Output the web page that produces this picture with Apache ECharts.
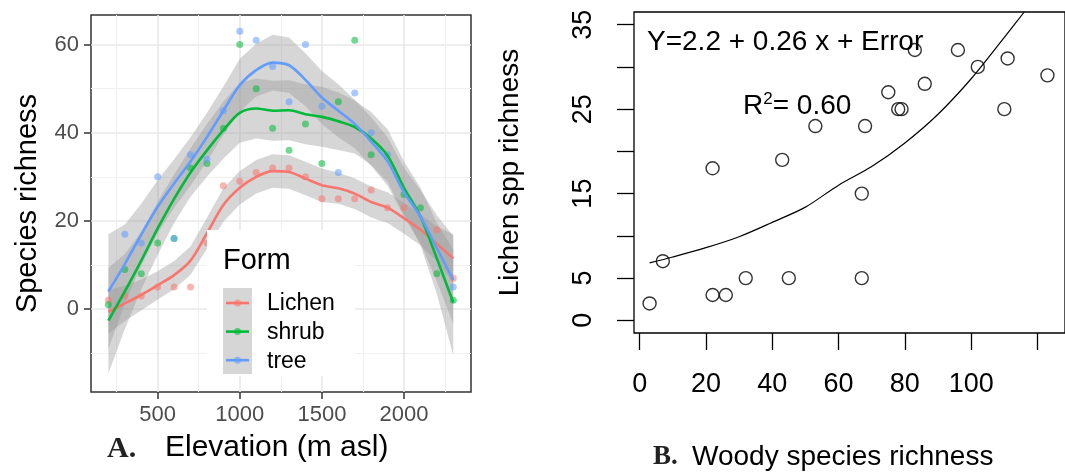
<!DOCTYPE html>
<html><head><meta charset="utf-8">
<script src="https://cdn.jsdelivr.net/npm/echarts@6/dist/echarts.min.js"></script>
<style>html,body{margin:0;padding:0;background:#fff}#c{width:1065px;height:475px}</style>
</head><body><div id="c"></div>
<script>
// ---------- Panel A data (elevation vs species richness) ----------
const elevGrid = [200,300,400,500,600,700,800,900,1000,1100,1200,1300,1400,1500,1600,1700,1800,1900,2000,2100,2200,2300];
const lichenObs = [2,3,3,5,5,5,15,28,29,31,32,32,30,25,25,25,27,23,23,null,18,7];
const shrubObs  = [1,9,8,15,16,32,33,41,60,50,41,36,42,33,47,61,35,null,26,23,8,2];
const treeObs   = [null,17,15,30,16,35,34,45,63,61,55,47,60,46,31,49,40,35,null,null,null,5];
const lichenFit = [-0.6,1.3,3.2,5.4,7.7,11.0,17.2,23.6,27.5,30.0,31.3,31.1,29.6,28.1,27.4,26.2,24.3,23.0,20.6,18.0,14.8,11.5];
const lichenSE  = [5,4,3.5,3.2,3.2,3.2,3.5,3.8,3.8,3.8,3.8,3.8,3.8,3.8,3.5,3.5,3.5,3.5,3.5,3.5,4,5.5];
const shrubFit  = [-2.6,4.0,11.0,18.3,25.0,31.0,36.0,40.6,44.5,45.5,45.0,45.1,44.2,43.6,42.6,41.3,38.7,34.8,27.5,21.0,11.5,1.5];
const shrubSE   = [12,8.5,6.5,6,5.5,5.5,6,6.5,6.8,6.8,6.8,6.8,6.8,6.8,6.5,6,6,6,6,6.5,8,12];
const treeFit   = [4.0,10.2,16.9,23.2,28.5,33.5,39.0,45.0,50.8,54.2,55.9,55.3,52.0,48.0,45.0,42.0,38.0,33.5,26.5,21.0,13.8,6.6];
const treeSE    = [13,9,7,6,5.5,5.5,5.5,5.5,6,6,6.3,6.3,6,6,6,5.5,5.5,5.5,5.5,6,7.5,10];
const elevTicks = [500,1000,1500,2000];
const elevMinor = [250,750,1250,1750,2250];
const richTicks = [0,20,40,60];
const richMinor = [-10,10,30,50];
const formNames = ['Lichen','shrub','tree'];
const formColors = ['#F8766D','#00BA38','#619CFF'];

// ---------- Panel B data (woody vs lichen richness) ----------
const woodyX  = [3,7,22,22,26,32,43,45,53,67,67,68,75,78,79,83,86,96,102,110,111,123];
const lichenY = [2,7,18,3,3,5,19,5,23,15,5,23,27,25,25,32,28,32,30,25,31,29];
const curveX  = [3,10,20,30,40,50,60,70,80,90,100,110,116];
const curveY  = [6.8,7.5,8.6,9.9,11.6,13.4,16.0,18.2,21.0,24.4,28.6,33.5,36.5];
const woodyTicks = [0,20,40,60,80,100,120];
const woodyLabels = [0,20,40,60,80,100];
const lichTicks = [0,5,10,15,20,25,30,35];
const lichLabels = [0,5,15,25,35];

const SANS = 'Liberation Sans, Arial, sans-serif';
const SERIF = 'Liberation Serif, Times New Roman, serif';
const plain = v => String(v);

function pairs(xs, ys){ const out=[]; xs.forEach((x,i)=>{ if(ys[i]!==null) out.push([x,ys[i]]); }); return out; }

function ribbon(fit, se){
  return {
    type:'custom', xAxisIndex:0, yAxisIndex:0, silent:true,
    data: [[elevGrid[0], fit[0]]],
    renderItem: function(params, api){
      const pts=[];
      for(let i=0;i<elevGrid.length;i++) pts.push(api.coord([elevGrid[i], fit[i]+se[i]]));
      for(let i=elevGrid.length-1;i>=0;i--) pts.push(api.coord([elevGrid[i], fit[i]-se[i]]));
      return {type:'polygon', shape:{points:pts}, style:{fill:'rgba(153,153,153,0.4)'}};
    }
  };
}
function fitLine(fit, color){
  return {type:'line', xAxisIndex:0, yAxisIndex:0, data: pairs(elevGrid, fit), smooth:0.3,
    showSymbol:false, silent:true, lineStyle:{color:color, width:2.6}};
}
function obs(ys, color){
  return {type:'scatter', xAxisIndex:0, yAxisIndex:0, data: pairs(elevGrid, ys), symbolSize:7,
    silent:true, itemStyle:{color:color, opacity:0.55}};
}

const series = [
  obs(lichenObs, formColors[0]), obs(shrubObs, formColors[1]), obs(treeObs, formColors[2]),
  ribbon(lichenFit, lichenSE), fitLine(lichenFit, formColors[0]),
  ribbon(shrubFit, shrubSE), fitLine(shrubFit, formColors[1]),
  ribbon(treeFit, treeSE), fitLine(treeFit, formColors[2]),
  {type:'scatter', xAxisIndex:2, yAxisIndex:2, data: pairs(woodyX, lichenY), symbol:'circle', symbolSize:13,
    silent:true, itemStyle:{color:'rgba(0,0,0,0)', borderColor:'#000', borderWidth:1.4}},
  {type:'line', xAxisIndex:2, yAxisIndex:2, data: pairs(curveX, curveY), smooth:0.3, clip:true,
    showSymbol:false, silent:true, lineStyle:{color:'#000', width:1.2}}
];

const tickLab = {fontFamily:SANS, color:'#4D4D4D', fontSize:22, formatter:plain};
const noLine = {show:false, onZero:false};

const option = {
  animation:false,
  grid:[
    {left:91, top:15, width:380, height:377, show:true, backgroundColor:'#fff', borderColor:'#333', borderWidth:1.5},
    {left:634, top:12, width:435, height:321, show:true, backgroundColor:'transparent', borderColor:'#000', borderWidth:1.3}
  ],
  xAxis:[
    {type:'value', gridIndex:0, min:94, max:2408, axisLine:noLine,
      axisTick:{show:true, inside:false, customValues:elevTicks, length:7, lineStyle:{color:'#333', width:1.5}},
      axisLabel:{customValues:elevTicks, margin:12, ...tickLab},
      splitLine:{show:true, lineStyle:{color:'#E8E8E8', width:1.6}}},
    {type:'value', gridIndex:0, min:94, max:2408, axisLine:noLine,
      axisTick:{show:false, customValues:elevMinor},
      axisLabel:{show:false, customValues:elevMinor},
      splitLine:{show:true, lineStyle:{color:'#F0F0F0', width:1}}},
    {type:'value', gridIndex:1, min:-1.7, max:128.3, axisLine:noLine,
      axisTick:{show:true, inside:false, customValues:woodyTicks, length:17, lineStyle:{color:'#000', width:1.3}},
      axisLabel:{customValues:woodyLabels, margin:38, fontFamily:SANS, color:'#000', fontSize:27, formatter:plain},
      splitLine:{show:false}}
  ],
  yAxis:[
    {type:'value', gridIndex:0, min:-18.8, max:66.7, axisLine:noLine,
      axisTick:{show:true, inside:false, customValues:richTicks, length:7, lineStyle:{color:'#333', width:1.5}},
      axisLabel:{customValues:richTicks, margin:12, ...tickLab},
      splitLine:{show:true, lineStyle:{color:'#E8E8E8', width:1.6}},
      name:'Species richness', nameLocation:'middle', nameRotate:90, nameGap:49,
      nameTextStyle:{fontFamily:SANS, fontSize:29, color:'#000'}},
    {type:'value', gridIndex:0, min:-18.8, max:66.7, axisLine:noLine,
      axisTick:{show:false, customValues:richMinor},
      axisLabel:{show:false, customValues:richMinor},
      splitLine:{show:true, lineStyle:{color:'#F0F0F0', width:1}}},
    {type:'value', gridIndex:1, min:-1.5, max:36.5, axisLine:noLine,
      axisTick:{show:true, inside:false, customValues:lichTicks, length:17, lineStyle:{color:'#000', width:1.3}},
      axisLabel:{customValues:lichLabels, rotate:90, margin:37, fontFamily:SANS, color:'#000', fontSize:27, formatter:plain},
      splitLine:{show:false},
      name:'Lichen spp richness', nameLocation:'middle', nameRotate:90, nameGap:110,
      nameTextStyle:{fontFamily:SANS, fontSize:28, color:'#000'}}
  ],
  series: series,
  graphic:[
    // legend of panel A
    {type:'rect', shape:{x:207, y:230, width:148, height:146}, style:{fill:'#fff'}, z:100},
    {type:'text', left:223, top:246, style:{text:'Form', font:'29px ' + SANS, fill:'#000'}, z:101},
    {type:'rect', shape:{x:223, y:288, width:29, height:86}, style:{fill:'#D6D6D6'}, z:101},
    ...formNames.map((n,i)=>({type:'group', z:102, children:[
      {type:'line', shape:{x1:226, y1:303+28.6*i, x2:249, y2:303+28.6*i}, style:{stroke:formColors[i], lineWidth:2.6}, z:102},
      {type:'circle', shape:{cx:237.5, cy:303+28.6*i, r:3.5}, style:{fill:formColors[i], opacity:0.6}, z:102},
      {type:'text', x:267, y:304+28.6*i, style:{text:n, font:'23px ' + SANS, fill:'#000', verticalAlign:'middle'}, z:102}
    ]})),
    // bottom titles
    {type:'text', x:107, y:449, style:{text:'A.', font:'bold 30px ' + SERIF, fill:'#222', verticalAlign:'middle'}},
    {type:'text', x:165, y:448, style:{text:'Elevation (m asl)', font:'30px ' + SANS, fill:'#000', verticalAlign:'middle'}},
    {type:'text', x:653, y:457, style:{text:'B.', font:'bold 27px ' + SERIF, fill:'#222', verticalAlign:'middle'}},
    {type:'text', x:692, y:457, style:{text:'Woody species richness', font:'28px ' + SANS, fill:'#000', verticalAlign:'middle'}},
    // regression annotations
    {type:'text', x:647, y:42, style:{text:'Y=2.2 + 0.26 x + Error', font:'28px ' + SANS, fill:'#000', verticalAlign:'middle'}, z:50},
    {type:'text', x:743, y:106, style:{
      text:'{a|R}{s|2}{a|= 0.60}', verticalAlign:'middle',
      rich:{a:{fontFamily:SANS, fontSize:28, color:'#000'}, s:{fontFamily:SANS, fontSize:17, color:'#000', verticalAlign:'top', padding:[0,0,14,0]}}
    }, z:50}
  ]
};
const chart = echarts.init(document.getElementById('c'), null, {renderer:'canvas'});
chart.setOption(option);
</script></body></html>
